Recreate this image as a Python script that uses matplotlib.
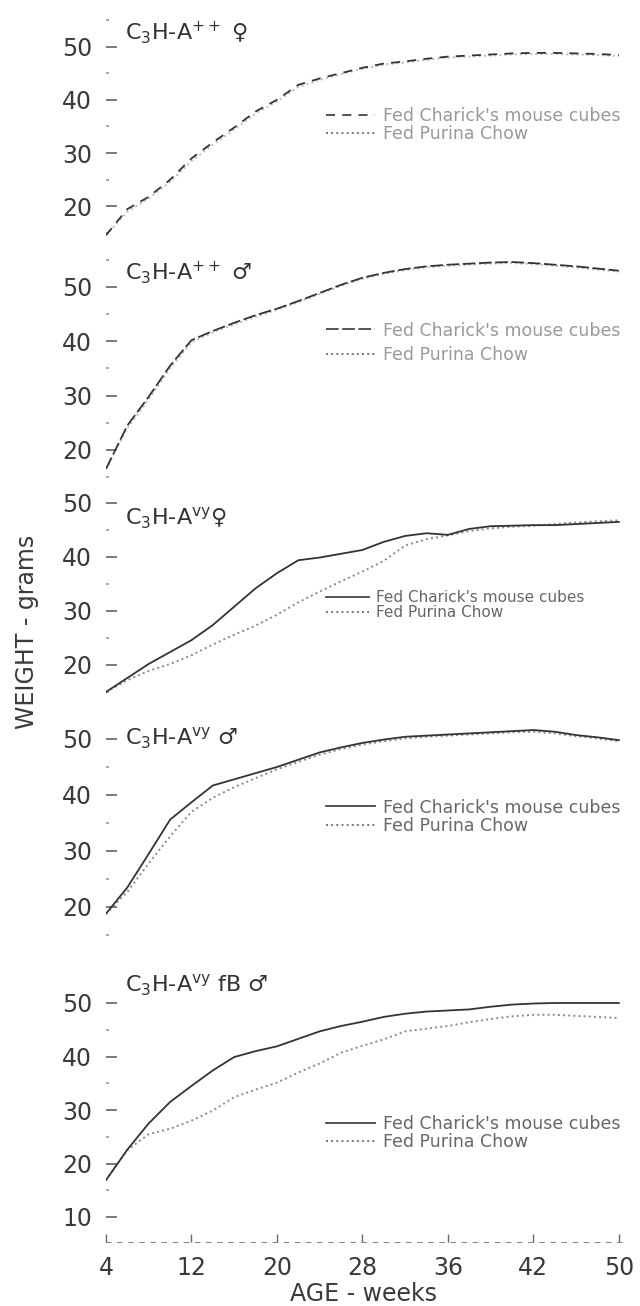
import matplotlib
matplotlib.use('Agg')
import matplotlib.pyplot as plt
from matplotlib.lines import Line2D
from matplotlib.ticker import MultipleLocator

plt.rcParams['font.family'] = ['DejaVu Sans']
plt.rcParams['mathtext.fontset'] = 'dejavusans'

# age axis: evenly spaced positions, tick labels as printed on the figure
age_pos = [4, 6, 8, 10, 12, 14, 16, 18, 20, 22, 24, 26, 28,
           30, 32, 34, 36, 38, 40, 42, 44, 46, 48, 50, 52]
tick_pos = [4, 12, 20, 28, 36, 44, 52]
tick_labels = ['4', '12', '20', '28', '36', '42', '50']

titles = [r'C$_3$H-A$^{\mathrm{++}}$ ♀', r'C$_3$H-A$^{\mathrm{++}}$ ♂',
          r'C$_3$H-A$^{\mathrm{vy}}$♀', r'C$_3$H-A$^{\mathrm{vy}}$ ♂',
          r'C$_3$H-A$^{\mathrm{vy}}$ fB ♂']
legend_labels = ["Fed Charick's mouse cubes", "Fed Purina Chow"]

# weights (grams)
p1_cubes = [14.6, 19.5, 21.8, 25.0, 29.0, 32.0, 34.8, 37.8, 40.0, 42.8, 44.0, 45.0, 46.0,
            46.8, 47.2, 47.7, 48.1, 48.3, 48.5, 48.7, 48.8, 48.8, 48.7, 48.6, 48.4]
p1_chow = [14.6, 19.0, 21.5, 24.6, 28.5, 31.6, 34.4, 37.4, 39.7, 42.4, 43.7, 44.8, 45.8,
           46.6, 47.0, 47.5, 47.9, 48.1, 48.3, 48.5, 48.6, 48.6, 48.5, 48.4, 48.2]

p2_cubes = [16.5, 24.5, 29.8, 35.5, 40.2, 41.9, 43.4, 44.8, 46.0, 47.4, 48.9, 50.4, 51.7,
            52.6, 53.3, 53.8, 54.1, 54.3, 54.5, 54.6, 54.4, 54.1, 53.8, 53.4, 53.0]
p2_chow = [16.5, 24.0, 29.3, 35.0, 39.8, 41.6, 43.1, 44.5, 45.8, 47.2, 48.7, 50.2, 51.5,
           52.4, 53.1, 53.6, 53.9, 54.1, 54.3, 54.4, 54.2, 53.9, 53.6, 53.2, 52.8]

p3_cubes = [15.0, 17.6, 20.2, 22.4, 24.6, 27.4, 30.8, 34.2, 37.0, 39.4, 39.9, 40.6, 41.3,
            42.8, 43.9, 44.4, 44.1, 45.2, 45.7, 45.8, 45.9, 45.9, 46.1, 46.3, 46.5]
p3_chow = [15.0, 17.2, 18.9, 20.2, 21.8, 23.8, 25.6, 27.3, 29.3, 31.6, 33.6, 35.5, 37.3,
           39.3, 42.1, 43.3, 44.0, 44.8, 45.3, 45.6, 45.8, 46.1, 46.4, 46.6, 46.8]

p4_cubes = [18.8, 23.5, 29.5, 35.6, 38.7, 41.7, 42.8, 43.9, 45.0, 46.3, 47.6, 48.5, 49.3,
            49.9, 50.4, 50.6, 50.8, 51.0, 51.2, 51.4, 51.6, 51.3, 50.7, 50.3, 49.8]
p4_chow = [18.8, 22.7, 27.8, 32.6, 37.0, 39.5, 41.4, 43.0, 44.6, 45.9, 47.2, 48.2, 49.0,
           49.6, 50.1, 50.4, 50.6, 50.8, 51.0, 51.2, 51.3, 51.0, 50.5, 50.1, 49.6]

p5_cubes = [16.9, 22.6, 27.5, 31.5, 34.5, 37.4, 39.9, 41.0, 41.9, 43.3, 44.7, 45.7, 46.5,
            47.4, 48.0, 48.4, 48.6, 48.8, 49.3, 49.7, 49.9, 50.0, 50.0, 50.0, 50.0]
p5_chow = [16.9, 22.5, 25.5, 26.5, 28.0, 29.9, 32.4, 33.8, 35.1, 37.0, 38.7, 40.7, 42.0,
           43.2, 44.7, 45.2, 45.7, 46.4, 47.0, 47.5, 47.8, 47.8, 47.6, 47.4, 47.2]

W, H = 640, 1306
fig = plt.figure(figsize=(W / 100, H / 100), dpi=100)

# layout per panel: pixel of the 50 g line, px per gram, y limits,
# title centre y, legend centre y, legend font size, row spacing, styles
panels = [
    (p1_cubes, p1_chow, 46.5, 5.33, (12, 56), 33, 125, 12.5, 0.0, (0, (5, 4)), '#bbbbbb', '#999999'),
    (p2_cubes, p2_chow, 287, 5.43, (14, 56), 273, 343, 12.5, 0.4, (0, (7, 2)), '#bbbbbb', '#999999'),
    (p3_cubes, p3_chow, 503, 5.40, (12, 53), 518, 605, 11, 0.0, '-', '#888888', '#666666'),
    (p4_cubes, p4_chow, 739, 5.60, (14, 53), 738, 817, 12.5, 0.05, '-', '#888888', '#666666'),
    (p5_cubes, p5_chow, 1003, 5.35, (5.3, 54), 985, 1133, 12.5, 0.0, '-', '#888888', '#666666'),
]

x_left, x_right = 106, 622
for i, (cubes, chow, y50, ppu, ylim, ty, ly, lfs, lsp, ls1, c2, lc) in enumerate(panels):
    top = y50 - (ylim[1] - 50) * ppu
    bot = y50 + (50 - ylim[0]) * ppu
    ax = fig.add_axes([x_left / W, 1 - bot / H, (x_right - x_left) / W, (bot - top) / H])
    ax.patch.set_alpha(0)
    ax.set_xlim(4, 52.3)
    ax.set_ylim(*ylim)

    ax.plot(age_pos, chow, color=c2, ls=':', lw=1.4)
    ax.plot(age_pos, cubes, color='#333333', ls=ls1, lw=1.3)

    for s in ['top', 'right', 'left']:
        ax.spines[s].set_visible(False)
    ax.yaxis.set_major_locator(MultipleLocator(10))
    ax.yaxis.set_minor_locator(MultipleLocator(5))
    ax.tick_params(axis='y', which='major', direction='in', length=8, width=1.1,
                   color='#555555', pad=10, labelsize=17, labelcolor='#3a3a3a')
    ax.tick_params(axis='y', which='minor', direction='in', length=2, width=1.2,
                   color='#999999')

    if i == 4:
        ax.spines['bottom'].set_linestyle((0, (4, 6)))
        ax.spines['bottom'].set_color('#888888')
        ax.set_xticks(tick_pos)
        ax.set_xticklabels(tick_labels)
        ax.tick_params(axis='x', direction='in', length=6, width=1.0, color='#666666',
                       pad=10, labelsize=17, labelcolor='#3a3a3a')
    else:
        ax.spines['bottom'].set_visible(False)
        ax.set_xticks([])

    fig.text(125 / W, 1 - ty / H, titles[i], fontsize=16, color='#333333',
             ha='left', va='center')

    handles = [Line2D([], [], color='#444444', ls=ls1 if i < 2 else '-', lw=1.3),
               Line2D([], [], color='#777777', ls=':', lw=1.4)]
    ax.legend(handles, legend_labels, loc='center left',
              bbox_to_anchor=(326 / W, 1 - ly / H), bbox_transform=fig.transFigure,
              frameon=False, fontsize=lfs, labelcolor=lc, handlelength=2.8,
              handletextpad=0.5, labelspacing=lsp, borderpad=0, borderaxespad=0)

fig.text(27 / W, 1 - 632 / H, 'WEIGHT - grams', rotation=90, fontsize=17,
         color='#3a3a3a', ha='center', va='center')
fig.text(364 / W, 1 - 1294 / H, 'AGE - weeks', fontsize=17, color='#3a3a3a',
         ha='center', va='center')

plt.savefig('out.png', dpi=100)
